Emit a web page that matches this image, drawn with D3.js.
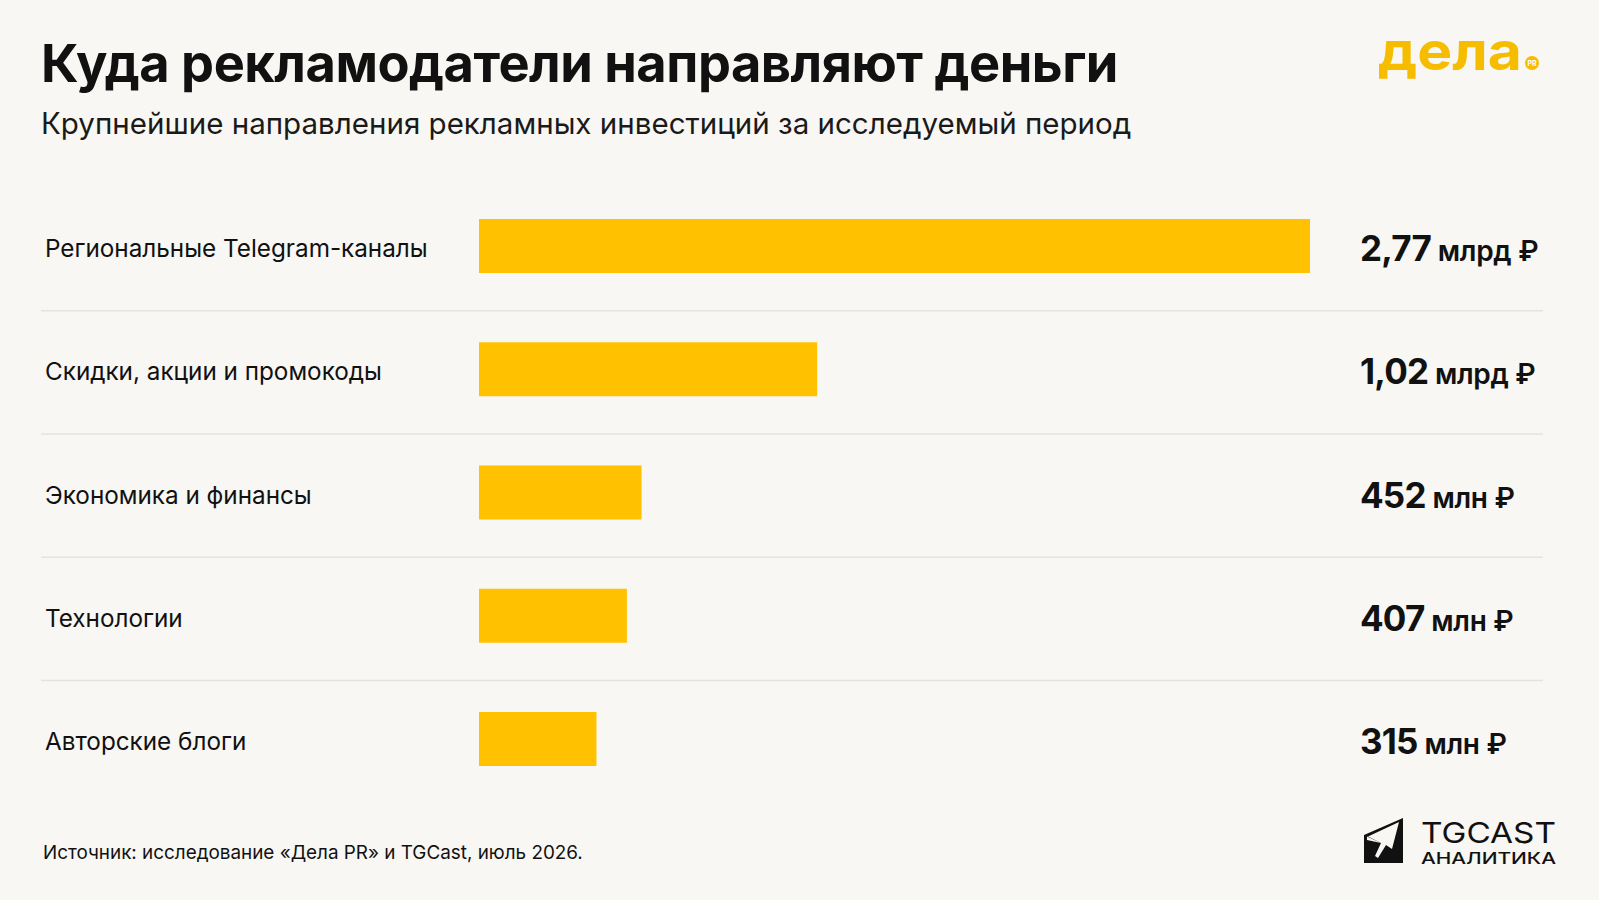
<!DOCTYPE html>
<html>
<head>
<meta charset="utf-8">
<script src="https://cdn.jsdelivr.net/npm/d3@7"></script>
<style>
  html, body { margin: 0; padding: 0; background: #f8f7f3; }
  svg { display: block; font-family: Inter, "Noto Sans", sans-serif; }
</style>
</head>
<body>
<svg id="chart" width="1599" height="900"></svg>
<script>
// data (values in млн ₽)
const categories = [
  "Региональные Telegram-каналы",
  "Скидки, акции и промокоды",
  "Экономика и финансы",
  "Технологии",
  "Авторские блоги"
];
const values = [2770, 1020, 452, 407, 315];
const valueNums = ["2,77", "1,02", "452", "407", "315"];
const valueUnits = ["млрд ₽", "млрд ₽", "млн ₽", "млн ₽", "млн ₽"];

const title = "Куда рекламодатели направляют деньги";
const subtitle = "Крупнейшие направления рекламных инвестиций за исследуемый период";
const source = "Источник: исследование «Дела PR» и TGCast, июль 2026.";

const W = 1599, H = 900;
const yellow = "#ffc100";
const ink = "#111111";

const svg = d3.select("#chart");
svg.append("rect").attr("width", W).attr("height", H).attr("fill", "#f8f7f3");

// scale font-size so the text takes the given width
function fitWidth(sel, width) {
  let fs = parseFloat(sel.attr("font-size"));
  let w = sel.node().getComputedTextLength();
  if (w > 0) sel.attr("font-size", fs * width / w);
  return sel;
}

// header
const t = svg.append("text")
  .attr("x", 41).attr("y", 82)
  .attr("font-size", 52).attr("font-weight", 700)
  .attr("fill", ink).attr("letter-spacing", -0.5)
  .text(title);
fitWidth(t, 1077);

const st = svg.append("text")
  .attr("x", 41).attr("y", 134)
  .attr("font-size", 28).attr("font-weight", 400)
  .attr("fill", "#1a1a1a")
  .text(subtitle);
fitWidth(st, 1091);

// logo "дела PR"
const logo = svg.append("g");
logo.append("text")
  .attr("x", 1378).attr("y", 70)
  .attr("font-size", 54).attr("font-weight", 700)
  .attr("fill", "#f6bd00")
  .attr("textLength", 144).attr("lengthAdjust", "spacingAndGlyphs")
  .text("дела");
logo.append("circle").attr("cx", 1532).attr("cy", 63).attr("r", 7).attr("fill", "#f6bd00");
logo.append("text")
  .attr("x", 1532).attr("y", 65.5)
  .attr("text-anchor", "middle")
  .attr("font-size", 7).attr("font-weight", 700)
  .attr("fill", "#fff")
  .text("PR");

// scales
const y = d3.scalePoint().domain(categories).range([246, 739]);
const x = d3.scalePow().exponent(0.9).domain([0, d3.max(values)]).range([0, 831]);
const barX = 479, barH = 54;

// separators between rows
const seps = categories.slice(1);
svg.append("g").selectAll("line")
  .data(seps)
  .join("line")
  .attr("x1", 41).attr("x2", 1543)
  .attr("y1", d => y(d) - y.step() / 2 + 3)
  .attr("y2", d => y(d) - y.step() / 2 + 3)
  .attr("stroke", "#e5e3dd").attr("stroke-width", 1.5);

const rows = svg.append("g").selectAll("g")
  .data(categories)
  .join("g");

const labels = rows.append("text")
  .attr("x", 45)
  .attr("y", d => y(d) + 11)
  .attr("font-size", 25).attr("font-weight", 400)
  .attr("fill", ink)
  .text(d => d);
// size labels off the first one
const first = labels.filter((d, i) => i === 0);
fitWidth(first, 383);
labels.attr("font-size", first.attr("font-size"));

rows.append("rect")
  .attr("x", barX)
  .attr("y", d => y(d) - barH / 2)
  .attr("width", (d, i) => x(values[i]))
  .attr("height", barH)
  .attr("fill", yellow);

const vals = rows.append("text")
  .attr("x", 1360)
  .attr("y", d => y(d) + 15)
  .attr("fill", ink);
vals.append("tspan")
  .attr("font-size", 35).attr("font-weight", 700)
  .attr("letter-spacing", -0.8)
  .text((d, i) => valueNums[i]);
vals.append("tspan")
  .attr("font-size", 28).attr("font-weight", 600)
  .attr("letter-spacing", -0.3)
  .text((d, i) => "\u00a0" + valueUnits[i]);

// footer
const src = svg.append("text")
  .attr("x", 43).attr("y", 859)
  .attr("font-size", 20).attr("font-weight", 400)
  .attr("fill", ink)
  .text(source);
fitWidth(src, 540);

// TGCast mark
const tg = svg.append("g");
tg.append("path")
  .attr("d", "M1364,835 L1403,818 L1403,863 L1364,863 Z")
  .attr("fill", ink);
tg.append("path")
  .attr("d", "M1368,836.5 L1399,822 L1392,849 L1386,845 L1378,858 L1375,856 L1381,843 Z")
  .attr("fill", "#f8f7f3");
tg.append("path")
  .attr("d", "M1367,836.5 L1367,840 L1381,843 Z")
  .attr("fill", "#f8f7f3");
tg.append("text")
  .attr("x", 1421).attr("y", 843)
  .attr("font-size", 29).attr("font-weight", 400)
  .attr("fill", ink)
  .attr("textLength", 135).attr("lengthAdjust", "spacingAndGlyphs")
  .text("TGCAST");
tg.append("text")
  .attr("x", 1421).attr("y", 864)
  .attr("font-size", 16).attr("font-weight", 500)
  .attr("fill", ink)
  .attr("textLength", 135).attr("lengthAdjust", "spacingAndGlyphs")
  .text("АНАЛИТИКА");
</script>
</body>
</html>
